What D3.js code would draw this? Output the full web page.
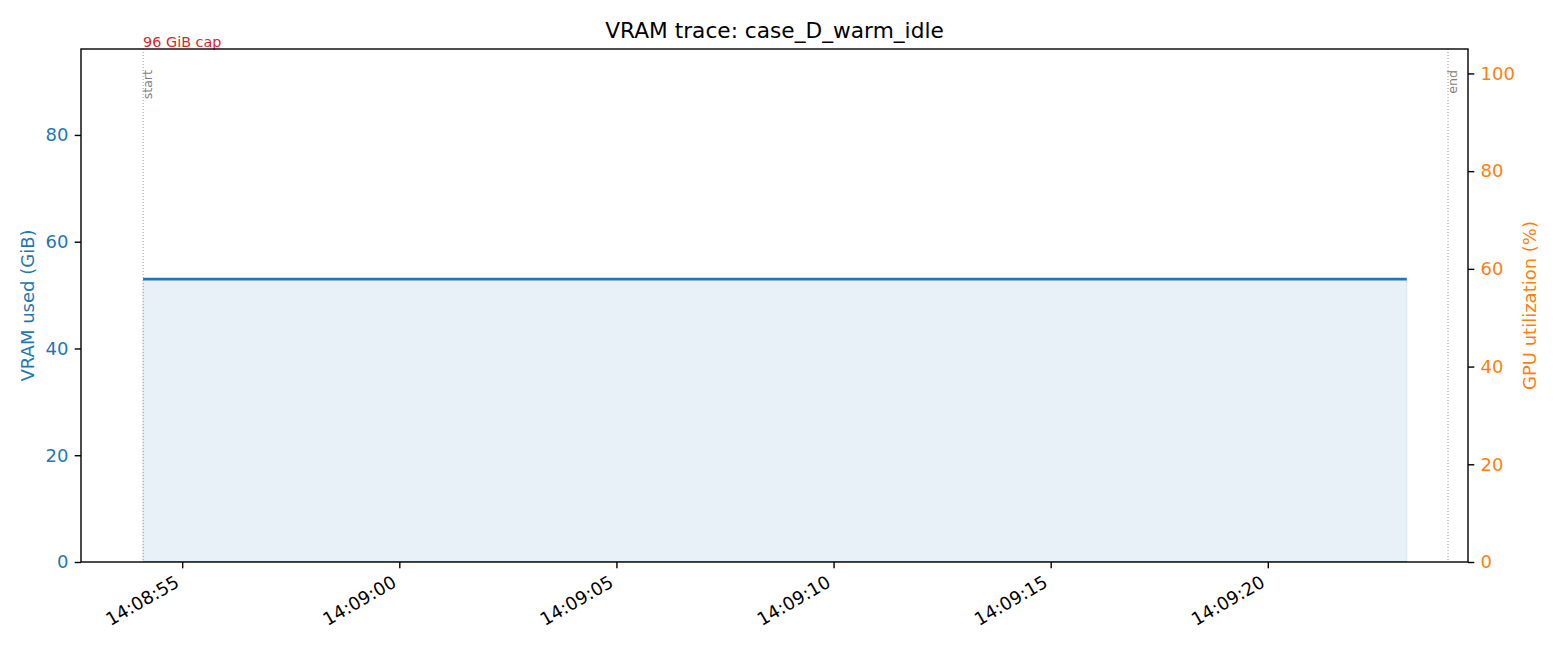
<!DOCTYPE html>
<html>
<head>
<meta charset="utf-8">
<script src="https://cdn.jsdelivr.net/npm/d3@7"></script>
<style>
  body { margin: 0; background: #fff; }
  svg { font-family: "DejaVu Sans", sans-serif; }
</style>
</head>
<body>
<svg id="chart" width="1560" height="650"></svg>
<script>
// ---- data ----
const sampleTimes = [
  "14:08:54.1", "14:08:55.1", "14:08:56.1", "14:08:57.1", "14:08:58.1", "14:08:59.1",
  "14:09:00.1", "14:09:01.1", "14:09:02.1", "14:09:03.1", "14:09:04.1", "14:09:05.1",
  "14:09:06.1", "14:09:07.1", "14:09:08.1", "14:09:09.1", "14:09:10.1", "14:09:11.1",
  "14:09:12.1", "14:09:13.1", "14:09:14.1", "14:09:15.1", "14:09:16.1", "14:09:17.1",
  "14:09:18.1", "14:09:19.1", "14:09:20.1", "14:09:21.1", "14:09:22.1", "14:09:23.2"
];
const vramGiB = [
  53.0, 53.0, 53.0, 53.0, 53.0, 53.0, 53.0, 53.0, 53.0, 53.0,
  53.0, 53.0, 53.0, 53.0, 53.0, 53.0, 53.0, 53.0, 53.0, 53.0,
  53.0, 53.0, 53.0, 53.0, 53.0, 53.0, 53.0, 53.0, 53.0, 53.0
];
const gpuUtil = [
  0, 0, 0, 0, 0, 0, 0, 0, 0, 0,
  0, 0, 0, 0, 0, 0, 0, 0, 0, 0,
  0, 0, 0, 0, 0, 0, 0, 0, 0, 0
];
const markerTimes = ["14:08:54.1", "14:09:24.15"];
const markerLabels = ["start", "end"];
const xDomainTimes = ["14:08:52.67", "14:09:24.61"];
const xTickTimes = ["14:08:55", "14:09:00", "14:09:05", "14:09:10", "14:09:15", "14:09:20"];
const vramTicks = [0, 20, 40, 60, 80];
const gpuTicks = [0, 20, 40, 60, 80, 100];
const vramMax = 96.1;
const gpuMax = 105;
const capGiB = 96;
const capLabel = "96 GiB cap";
const title = "VRAM trace: case_D_warm_idle";

// ---- helpers ----
function parseT(s) {
  const [h, m, sec] = s.split(":");
  const secF = parseFloat(sec);
  const whole = Math.floor(secF);
  return new Date(2024, 0, 1, +h, +m, whole, Math.round((secF - whole) * 1000));
}

const blue = "#1f77b4", orange = "#ff7f0e", red = "#d62728";
const M = { left: 81, right: 1468, top: 49, bottom: 562 };
const FS = 18, TICK = 6.3;

const svg = d3.select("#chart");
const x = d3.scaleTime().domain(xDomainTimes.map(parseT)).range([M.left, M.right]);
const yL = d3.scaleLinear().domain([0, vramMax]).range([M.bottom, M.top]);
const yR = d3.scaleLinear().domain([0, gpuMax]).range([M.bottom, M.top]);

const data = sampleTimes.map((t, i) => ({ t: parseT(t), v: vramGiB[i], g: gpuUtil[i] }));

// clip
svg.append("clipPath").attr("id", "clip").append("rect")
  .attr("x", M.left).attr("y", M.top).attr("width", M.right - M.left).attr("height", M.bottom - M.top);

const plot = svg.append("g").attr("clip-path", "url(#clip)");

// area fill
plot.append("path").datum(data)
  .attr("d", d3.area().x(d => x(d.t)).y0(yL(0)).y1(d => yL(d.v)))
  .attr("fill", blue).attr("fill-opacity", 0.1)
  .attr("stroke", blue).attr("stroke-opacity", 0.12).attr("stroke-width", 1);

// GPU util line
plot.append("path").datum(data)
  .attr("d", d3.line().x(d => x(d.t)).y(d => yR(d.g)))
  .attr("fill", "none").attr("stroke", orange).attr("stroke-width", 1.5);

// VRAM line
plot.append("path").datum(data)
  .attr("d", d3.line().x(d => x(d.t)).y(d => yL(d.v)))
  .attr("fill", "none").attr("stroke", blue).attr("stroke-width", 2.6);

// markers
markerTimes.forEach((t, i) => {
  const px = x(parseT(t));
  plot.append("line")
    .attr("x1", px).attr("x2", px).attr("y1", M.top).attr("y2", M.bottom)
    .attr("stroke", "#999").attr("stroke-width", 1).attr("stroke-dasharray", "1,2");
  svg.append("text")
    .attr("transform", `translate(${px - 1},70) rotate(-90)`)
    .attr("text-anchor", "end").attr("dominant-baseline", "hanging")
    .attr("font-size", 12.6).attr("fill", "#808080")
    .text(markerLabels[i]);
});

// cap label
svg.append("text")
  .attr("x", x(parseT(markerTimes[0]))).attr("y", yL(capGiB) - 3)
  .attr("font-size", 14.4).attr("fill", red)
  .text(capLabel);

// axes frame
svg.append("rect")
  .attr("x", M.left).attr("y", M.top).attr("width", M.right - M.left).attr("height", M.bottom - M.top)
  .attr("fill", "none").attr("stroke", "#000").attr("stroke-width", 1.4);

// x axis
const xAxis = svg.append("g").attr("transform", `translate(0,${M.bottom})`)
  .call(d3.axisBottom(x).tickValues(xTickTimes.map(parseT)).tickSize(TICK).tickFormat(d3.timeFormat("%H:%M:%S")));
xAxis.select(".domain").remove();
xAxis.selectAll(".tick line").attr("stroke", "#000").attr("stroke-width", 1.4);
xAxis.selectAll(".tick text")
  .attr("font-size", FS).attr("fill", "#000").attr("font-family", "DejaVu Sans")
  .attr("text-anchor", "end").attr("dominant-baseline", "hanging")
  .attr("y", 0).attr("dy", 0)
  .attr("transform", "translate(-9,12) rotate(-30)");

// left axis
const yAxL = svg.append("g").attr("transform", `translate(${M.left},0)`)
  .call(d3.axisLeft(yL).tickValues(vramTicks).tickSize(TICK).tickPadding(TICK));
yAxL.select(".domain").remove();
yAxL.selectAll(".tick line").attr("stroke", "#000").attr("stroke-width", 1.4);
yAxL.selectAll(".tick text").attr("font-size", FS).attr("fill", blue).attr("font-family", "DejaVu Sans");

// right axis
const yAxR = svg.append("g").attr("transform", `translate(${M.right},0)`)
  .call(d3.axisRight(yR).tickValues(gpuTicks).tickSize(TICK).tickPadding(TICK));
yAxR.select(".domain").remove();
yAxR.selectAll(".tick line").attr("stroke", "#000").attr("stroke-width", 1.4);
yAxR.selectAll(".tick text").attr("font-size", FS).attr("fill", orange).attr("font-family", "DejaVu Sans");

// axis labels
svg.append("text")
  .attr("transform", `translate(34,${(M.top + M.bottom) / 2}) rotate(-90)`)
  .attr("text-anchor", "middle").attr("font-size", FS).attr("fill", blue)
  .text("VRAM used (GiB)");
svg.append("text")
  .attr("transform", `translate(1536,${(M.top + M.bottom) / 2}) rotate(-90)`)
  .attr("text-anchor", "middle").attr("font-size", FS).attr("fill", orange)
  .text("GPU utilization (%)");

// title
svg.append("text")
  .attr("x", (M.left + M.right) / 2).attr("y", 38)
  .attr("text-anchor", "middle").attr("font-size", 21.7).attr("fill", "#000")
  .text(title);
</script>
</body>
</html>
